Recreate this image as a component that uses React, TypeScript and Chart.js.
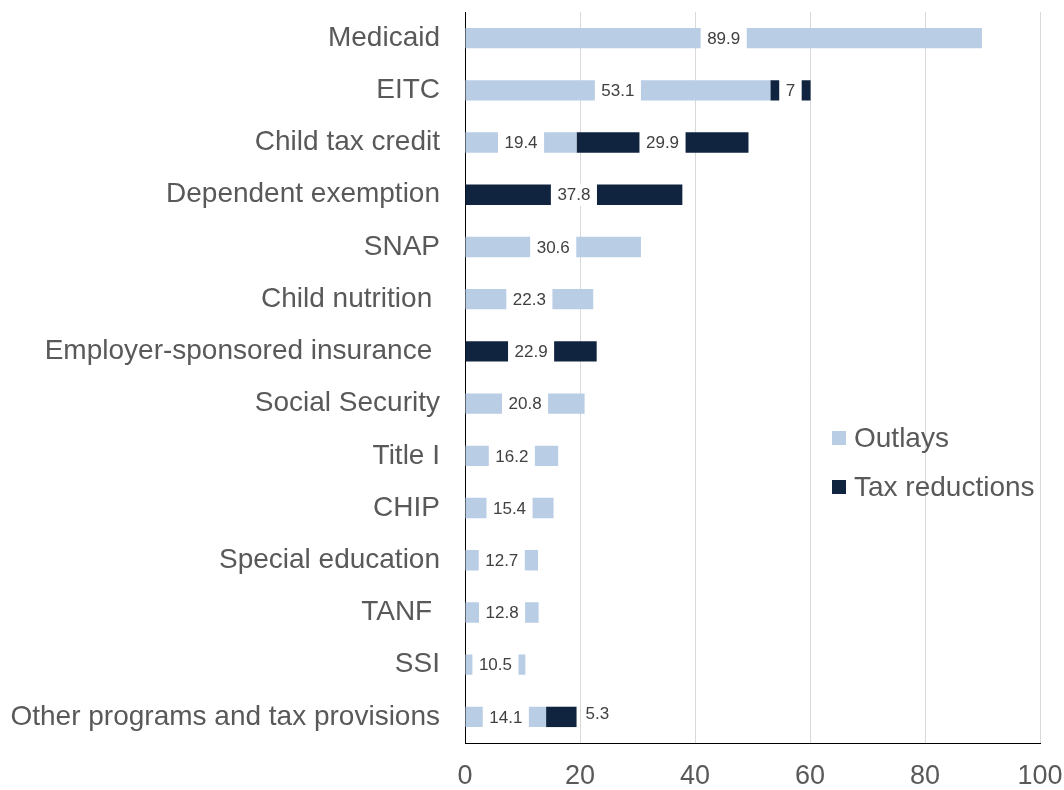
import React, { useEffect, useRef } from "react";
import { Chart, registerables } from "chart.js";

Chart.register(...registerables);

const categories = [
  "Medicaid",
  "EITC",
  "Child tax credit",
  "Dependent exemption",
  "SNAP",
  "Child nutrition ",
  "Employer-sponsored insurance ",
  "Social Security",
  "Title I",
  "CHIP",
  "Special education",
  "TANF ",
  "SSI",
  "Other programs and tax provisions",
];

const outlays = [89.9, 53.1, 19.4, 0, 30.6, 22.3, 0, 20.8, 16.2, 15.4, 12.7, 12.8, 10.5, 14.1];
const taxReductions = [0, 7, 29.9, 37.8, 0, 0, 22.9, 0, 0, 0, 0, 0, 0, 5.3];

const xTicks = [0, 20, 40, 60, 80, 100];

const LIGHT = "#b9cde5";
const DARK = "#10243f";
const TEXT = "#595959";
const FONT = "'Liberation Sans', Arial, sans-serif";

const labelPlugin = {
  id: "segLabels",
  afterDatasetsDraw(chart: any) {
    const ctx = chart.ctx;
    ctx.save();
    ctx.font = `17px ${FONT}`;
    ctx.textBaseline = "middle";
    chart.data.datasets.forEach((ds: any, di: number) => {
      const meta = chart.getDatasetMeta(di);
      meta.data.forEach((el: any, i: number) => {
        const v = ds.data[i];
        if (!v) return;
        const txt = String(v);
        const w = ctx.measureText(txt).width;
        const left = Math.min(el.x, el.base);
        const right = Math.max(el.x, el.base);
        const segW = right - left;
        const pad = 6.5;
        const h = el.height;
        if (w + 2 * pad > segW) {
          ctx.fillStyle = "#404040";
          ctx.textAlign = "left";
          ctx.fillText(txt, right + 9, el.y - 3);
        } else {
          const cx = (left + right) / 2;
          ctx.fillStyle = "#ffffff";
          ctx.fillRect(cx - w / 2 - pad, el.y - h / 2 - 1, w + 2 * pad, h + 2);
          ctx.fillStyle = "#404040";
          ctx.textAlign = "center";
          ctx.fillText(txt, cx, el.y + 1);
        }
      });
    });
    ctx.restore();
  },
};

const legendPlugin = {
  id: "insideLegend",
  afterDraw(chart: any) {
    const ctx = chart.ctx;
    ctx.save();
    ctx.font = `28px ${FONT}`;
    ctx.textBaseline = "middle";
    ctx.textAlign = "left";
    const items = chart.data.datasets.map((d: any) => ({ label: d.label, color: d.backgroundColor }));
    items.forEach((it: any, k: number) => {
      const y = 438 + k * 49;
      ctx.fillStyle = it.color;
      ctx.fillRect(832, y - 7, 14, 14);
      ctx.fillStyle = TEXT;
      ctx.fillText(it.label, 854, y + 1);
    });
    ctx.restore();
  },
};

export default function App() {
  const ref = useRef<HTMLCanvasElement>(null);
  useEffect(() => {
    document.body.style.margin = "0";
    const chart = new Chart(ref.current as HTMLCanvasElement, {
      type: "bar",
      data: {
        labels: categories,
        datasets: [
          { label: "Outlays", data: outlays, backgroundColor: LIGHT, barPercentage: 0.39, categoryPercentage: 1 },
          { label: "Tax reductions", data: taxReductions, backgroundColor: DARK, barPercentage: 0.39, categoryPercentage: 1 },
        ],
      },
      options: {
        indexAxis: "y",
        responsive: false,
        animation: false,
        layout: { padding: { top: 12, right: 24, left: 0, bottom: 0 } },
        plugins: { legend: { display: false }, tooltip: { enabled: false } },
        scales: {
          x: {
            stacked: true,
            min: 0,
            max: 100,
            afterBuildTicks(scale: any) {
              scale.ticks = xTicks.map((v) => ({ value: v }));
            },
            afterFit(scale: any) {
              scale.height = 47;
              scale.paddingLeft = 0;
              scale.paddingRight = 0;
            },
            grid: { color: "#d9d9d9", lineWidth: 1, drawTicks: false },
            border: { color: "#000000", width: 1 },
            ticks: { color: TEXT, font: { family: FONT, size: 27 }, padding: 17 },
          },
          y: {
            stacked: true,
            afterFit(scale: any) {
              scale.width = 465;
              scale.paddingTop = 0;
              scale.paddingBottom = 0;
            },
            grid: { display: false, drawTicks: false },
            border: { color: "#000000", width: 1 },
            ticks: { color: TEXT, font: { family: FONT, size: 28 }, padding: 25, autoSkip: false },
          },
        },
      },
      plugins: [labelPlugin, legendPlugin],
    });
    return () => chart.destroy();
  }, []);
  return (
    <div style={{ position: "relative", width: 1064, height: 790 }}>
      <canvas ref={ref} width={1064} height={790} style={{ display: "block" }} />
    </div>
  );
}
